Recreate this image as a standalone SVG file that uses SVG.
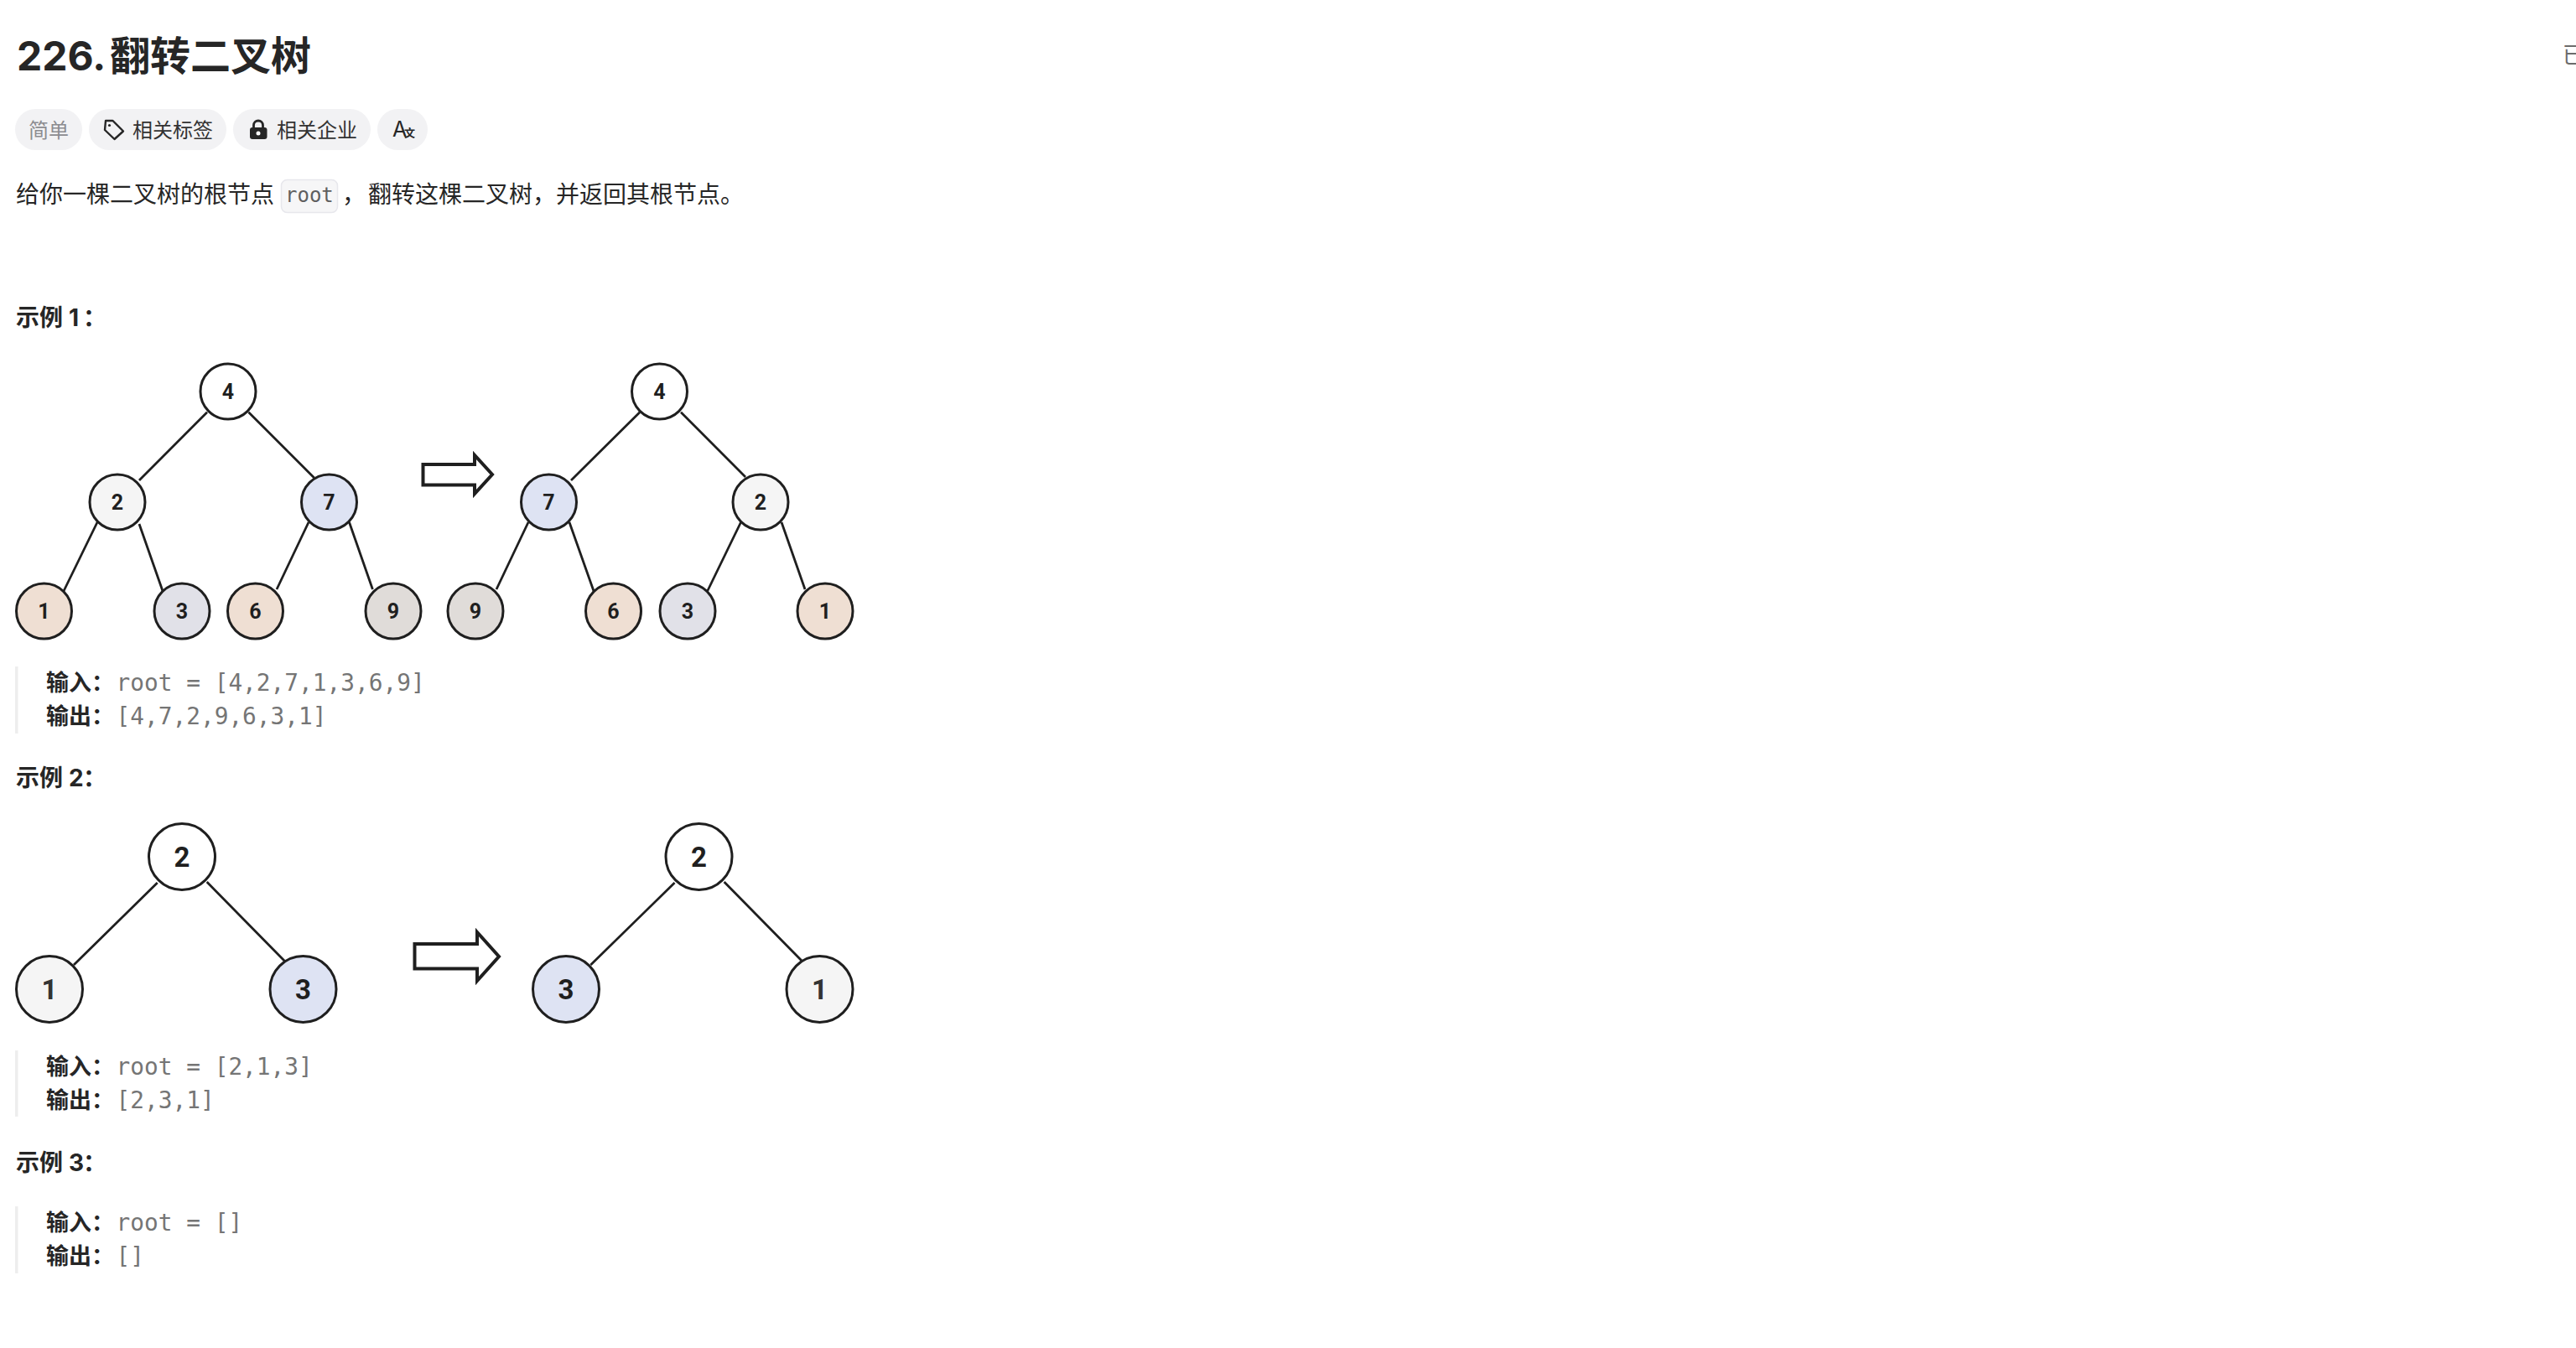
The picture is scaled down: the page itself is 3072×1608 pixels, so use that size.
<svg xmlns="http://www.w3.org/2000/svg" width="3072" height="1608" viewBox="0 0 3072 1608">
<style>
text{font-family:"Inter","Noto Sans CJK SC",sans-serif;fill:#262626}
.title{font-size:48px;font-weight:700}
.tag{font-size:24px;fill:#333}
.body{font-size:28px}
.h{font-size:28px;font-weight:700}
.b{font-size:27px;font-weight:700}
.m{font-family:"DejaVu Sans Mono","Liberation Mono",monospace;font-size:27.800px;fill:#757575}
.pill{fill:#f2f2f4}
.bar{fill:#eeeeee}
.n circle{stroke:#1f1f1f;stroke-width:3}
.n text{font-family:Roboto,"Liberation Sans",sans-serif;font-weight:700;text-anchor:middle;fill:#1f1f1f}
.s text{font-size:25px}
.l text{font-size:33px}
.w{fill:#fff}.g{fill:#f5f5f5}.bl{fill:#dee3f3}.or{fill:#efdfd3}.gb{fill:#e1e1e8}.gr{fill:#e0dcd9}
.edge{stroke:#1f1f1f;stroke-width:2.800;fill:none}
.arrow{fill:#fff;stroke:#1f1f1f;stroke-width:4;stroke-linejoin:miter}
</style>

<g id="header">
<text class="title" x="20" y="84">226.</text>
<text class="title" x="131" y="84">翻转二叉树</text>
<text x="3056" y="75" font-size="26" style="fill:#6b6b6b">已</text>
</g>

<g id="tags">
<rect class="pill" x="18" y="130" width="80" height="49" rx="24.500"/>
<text class="tag" x="34" y="164" style="fill:#8c8c90">简单</text>
<rect class="pill" x="106" y="130" width="164" height="49" rx="24.500"/>
<path d="M126 144h8.500L147 156.500 136.500 166 125 155z" fill="none" stroke="#262626" stroke-width="2.400" stroke-linejoin="round"/>
<circle cx="130.500" cy="149.500" r="1.600" fill="#262626"/>
<text class="tag" x="158" y="164">相关标签</text>
<rect class="pill" x="278" y="130" width="164" height="49" rx="24.500"/>
<path d="M302.500 152v-2.500a5.500 5.500 0 0 1 11 0v2.500" fill="none" stroke="#262626" stroke-width="2.800"/>
<rect x="298" y="152" width="20.500" height="14" rx="3" fill="#262626"/>
<circle cx="308" cy="159" r="2.500" fill="#fff"/>
<text class="tag" x="330" y="164">相关企业</text>
<rect class="pill" x="450" y="130" width="60" height="49" rx="24.500"/>
<text x="468" y="163" font-size="25" style="fill:#262626">A</text>
<text x="482" y="163" font-size="13" font-weight="700" style="fill:#262626">文</text>
</g>

<g id="description">
<text class="body" x="19" y="242">给你一棵二叉树的根节点</text>
<rect x="335.500" y="214.500" width="67" height="39" rx="7" fill="#f6f6f7" stroke="#e7e7ec" stroke-width="1.500"/>
<text x="340" y="241" style="font-family:'DejaVu Sans Mono',monospace;font-size:24px;fill:#5f5f5f">root</text>
<text class="body" x="408" y="242">，</text>
<text class="body" x="439" y="242">翻转这棵二叉树，并返回其根节点。</text>
</g>

<text class="h" x="19" y="389"><tspan>示例</tspan><tspan x="82">1</tspan><tspan x="99">：</tspan></text>

<g id="connectors">
<path class="edge" d="M247 491.700L166 573M296.500 491.700L374.700 570M116 623L76 705M166 625L194 705M368 623L330 703M416.500 623L444.400 703"/>
<path class="edge" d="M763 491.700L681 573M812 491.700L889 569M630 623L592 703M679 623L708 705M883.500 623L843.700 705M932 623L960 703"/>
<path class="edge" d="M187.700 1053L88 1151M246.700 1052L340 1147M804.500 1053L704.400 1151M863.600 1052L957 1147"/>
</g>

<path id="arrow1" class="arrow" d="M504.500 554H566V543L587 566 566 589V578.500H504.500Z"/>
<path id="arrow2" class="arrow" d="M494.500 1126H569V1112L595 1141 569 1170V1155.500H494.500Z"/>

<g class="n s">
<g id="a4"><circle class="w" cx="272" cy="467" r="33"/><text x="272" y="476">4</text></g>
<g id="a2"><circle class="g" cx="140" cy="599" r="33"/><text x="140" y="608">2</text></g>
<g id="a7"><circle class="bl" cx="392.500" cy="599" r="33"/><text x="392.500" y="608">7</text></g>
<g id="a1"><circle class="or" cx="52.500" cy="729" r="33"/><text x="52.500" y="738">1</text></g>
<g id="a3"><circle class="gb" cx="217" cy="729" r="33"/><text x="217" y="738">3</text></g>
<g id="a6"><circle class="or" cx="304.500" cy="729" r="33"/><text x="304.500" y="738">6</text></g>
<g id="a9"><circle class="gr" cx="469" cy="729" r="33"/><text x="469" y="738">9</text></g>
<g id="b4"><circle class="w" cx="786.500" cy="467" r="33"/><text x="786.500" y="476">4</text></g>
<g id="b7"><circle class="bl" cx="654.500" cy="599" r="33"/><text x="654.500" y="608">7</text></g>
<g id="b2"><circle class="g" cx="907" cy="599" r="33"/><text x="907" y="608">2</text></g>
<g id="b9"><circle class="gr" cx="567" cy="729" r="33"/><text x="567" y="738">9</text></g>
<g id="b6"><circle class="or" cx="731.500" cy="729" r="33"/><text x="731.500" y="738">6</text></g>
<g id="b3"><circle class="gb" cx="820" cy="729" r="33"/><text x="820" y="738">3</text></g>
<g id="b1"><circle class="or" cx="984" cy="729" r="33"/><text x="984" y="738">1</text></g>
</g>

<g id="ex1">
<rect class="bar" x="18" y="795" width="3.500" height="80"/>
<text class="b" x="55" y="824">输入：</text><text class="m" x="138.500" y="824">root = [4,2,7,1,3,6,9]</text>
<text class="b" x="55" y="864">输出：</text><text class="m" x="138.500" y="864">[4,7,2,9,6,3,1]</text>
</g>

<text class="h" x="19" y="938"><tspan>示例</tspan><tspan x="82">2</tspan><tspan x="99">：</tspan></text>

<g class="n l">
<g id="c2"><circle class="w" cx="217" cy="1022" r="39.500"/><text x="217" y="1034">2</text></g>
<g id="c1"><circle class="g" cx="59" cy="1180" r="39.500"/><text x="59" y="1192" style="fill:#333">1</text></g>
<g id="c3"><circle class="bl" cx="361.500" cy="1180" r="39.500"/><text x="361.500" y="1192">3</text></g>
<g id="d2"><circle class="w" cx="833.500" cy="1022" r="39.500"/><text x="833.500" y="1034">2</text></g>
<g id="d3"><circle class="bl" cx="675" cy="1180" r="39.500"/><text x="675" y="1192">3</text></g>
<g id="d1"><circle class="g" cx="977.500" cy="1180" r="39.500"/><text x="977.500" y="1192" style="fill:#333">1</text></g>
</g>

<g id="ex2">
<rect class="bar" x="18" y="1253" width="3.500" height="79"/>
<text class="b" x="55" y="1282">输入：</text><text class="m" x="138.500" y="1282">root = [2,1,3]</text>
<text class="b" x="55" y="1322">输出：</text><text class="m" x="138.500" y="1322">[2,3,1]</text>
</g>

<text class="h" x="19" y="1397"><tspan>示例</tspan><tspan x="82">3</tspan><tspan x="99">：</tspan></text>

<g id="ex3">
<rect class="bar" x="18" y="1439" width="3.500" height="80"/>
<text class="b" x="55" y="1468">输入：</text><text class="m" x="138.500" y="1468">root = []</text>
<text class="b" x="55" y="1508">输出：</text><text class="m" x="138.500" y="1508">[]</text>
</g>
</svg>
